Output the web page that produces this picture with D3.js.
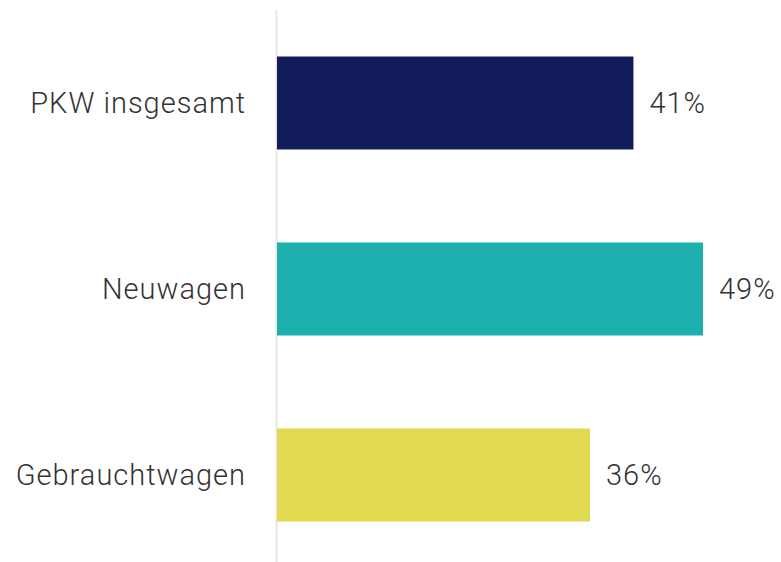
<!DOCTYPE html>
<html><head><meta charset="utf-8">
<script src="https://cdn.jsdelivr.net/npm/d3@7"></script>
<style>html,body{margin:0;padding:0;background:#fff;}svg{display:block;}</style>
</head><body>
<script>
const categories = ["PKW insgesamt", "Neuwagen", "Gebrauchtwagen"];
const values = [41, 49, 36];
const colors = ["#121C5A", "#1EB0AF", "#E1DA50"];
const valueLabels = ["41%", "49%", "36%"];

const W = 781, H = 562;
const svg = d3.select("body").append("svg").attr("width", W).attr("height", H);
const x0 = 277;
const x = d3.scaleLinear().domain([0, 49]).range([x0, 703]);
const y = d3.scaleBand().domain(categories).range([10, 568]).paddingInner(0.5).paddingOuter(0.25);

svg.append("line").attr("x1", x0-0.5).attr("x2", x0-0.5).attr("y1", 10).attr("y2", H)
  .attr("stroke", "#e6e6e6").attr("stroke-width", 2);

svg.selectAll("rect.bar").data(values).join("rect").attr("class","bar")
  .attr("x", x(0)).attr("y", (d,i)=>y(categories[i]))
  .attr("width", d=>x(d)-x(0)).attr("height", y.bandwidth())
  .attr("fill", (d,i)=>colors[i]);

const font = "Roboto, sans-serif";
svg.selectAll("text.cat").data(categories).join("text").attr("class","cat")
  .attr("x", 246).attr("y", d=>y(d)+y.bandwidth()/2)
  .attr("dy", "0.35em").attr("text-anchor","end")
  .attr("font-family", font).attr("font-weight", 300).attr("font-size", 29)
  .attr("letter-spacing", 1)
  .attr("fill", "#333").text(d=>d);

svg.selectAll("text.val").data(values).join("text").attr("class","val")
  .attr("x", d=>x(d)+16).attr("y", (d,i)=>y(categories[i])+y.bandwidth()/2)
  .attr("dy", "0.35em")
  .attr("font-family", font).attr("font-weight", 300).attr("font-size", 29)
  .attr("letter-spacing", 1)
  .attr("fill", "#333").text((d,i)=>valueLabels[i]);
</script>
</body></html>
